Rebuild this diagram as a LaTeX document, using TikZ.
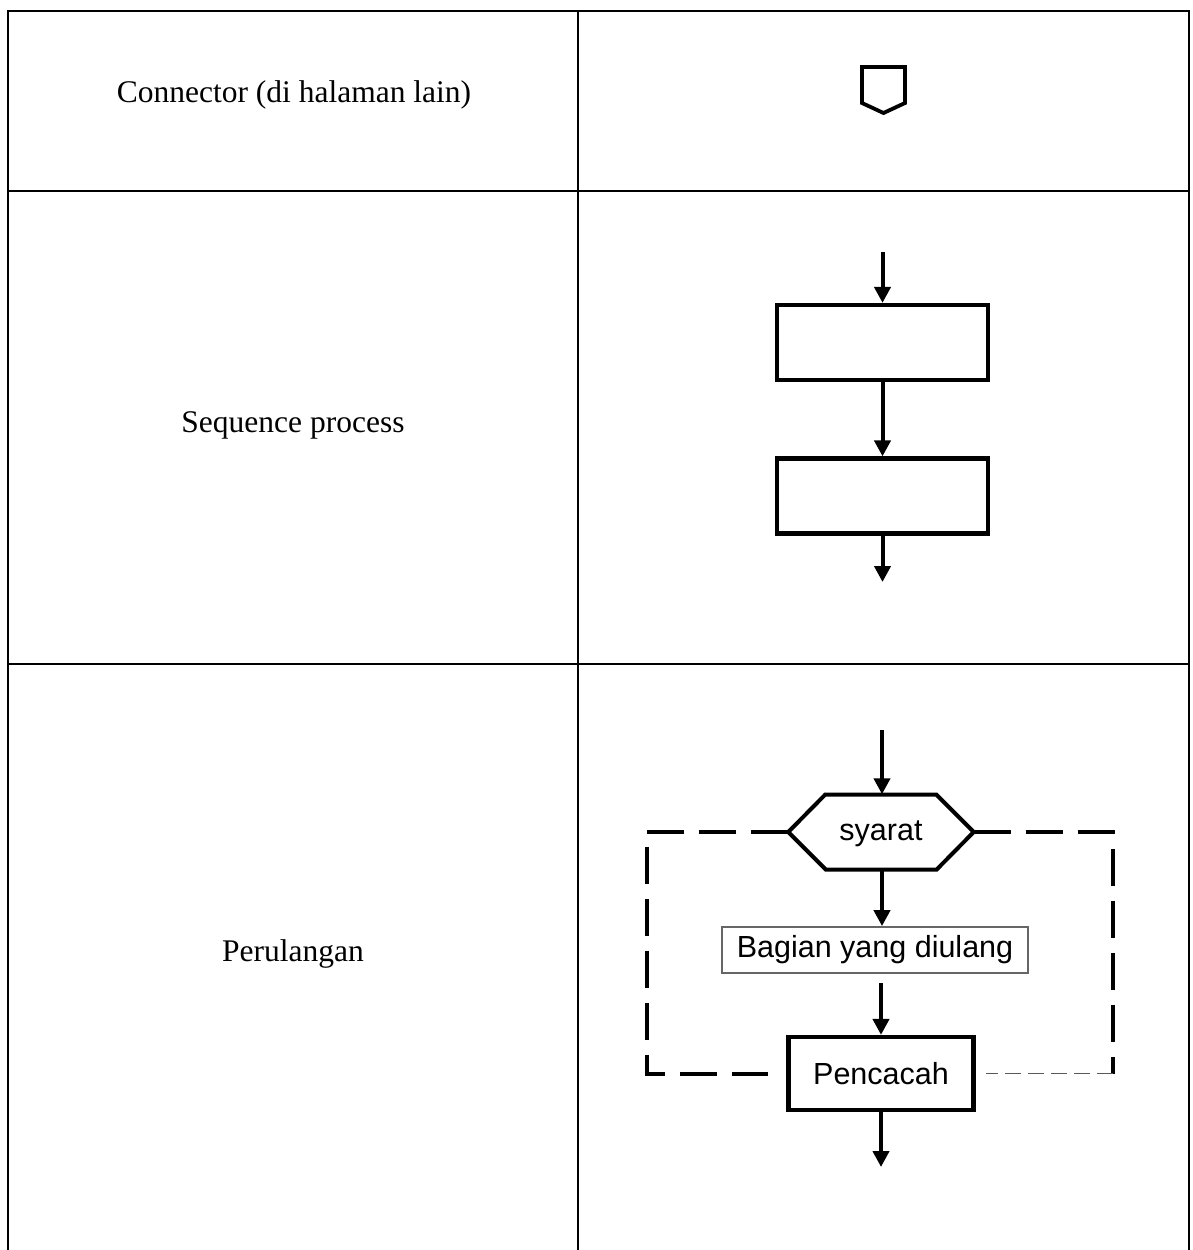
\documentclass[tikz,border=0pt]{standalone}
\usepackage{fontspec}
\setmainfont{Liberation Serif}
\newfontfamily\arialfont{Liberation Sans}
\usetikzlibrary{arrows.meta}
\begin{document}
\begin{tikzpicture}[x=1pt,y=-1pt,
  tableline/.style={line width=2pt,line cap=rect},
  labeltext/.style={font=\fontsize{31.5}{38}\selectfont, anchor=base, inner sep=0pt},
  flowbox/.style={draw, line width=4.2pt, minimum width=211pt, minimum height=75pt, inner sep=0pt},
  flowarrow/.style={line width=4pt, -{Triangle[length=16pt,width=16pt]}},
  flowline/.style={line width=4pt, line join=miter},
  sanstext/.style={font=\arialfont\fontsize{30.5}{36}\selectfont},
  loopdash/.style={line width=4pt, dash pattern=on 37pt off 15pt},
  thindash/.style={line width=1.8pt, draw=black!65, dash pattern=on 16pt off 7pt},
]
\useasboundingbox (0,0) rectangle (1193,1250);
\fill[white] (0,0) rectangle (1193,1250);

% table
\draw[tableline] (8,1250) -- (8,11) -- (1189,11) -- (1189,1250);
\draw[tableline] (578,11) -- (578,1250);
\draw[tableline] (8,191) -- (1189,191);
\draw[tableline] (8,664) -- (1189,664);

% left column labels
\node[labeltext] (lab1) at (294,102) {Connector (di halaman lain)};
\node[labeltext] (lab2) at (293,432) {Sequence process};
\node[labeltext] (lab3) at (293,961) {Perulangan};

% off-page connector symbol
\draw[line width=3.8pt, line join=miter] (862,67) -- (905,67) -- (905,103) -- (883.5,113) -- (862,103) -- cycle;

% sequence process
\coordinate (s0) at (882.5,252);
\node[flowbox] (b1) at (882.5,342.5) {};
\node[flowbox] (b2) at (882.5,496) {};
\coordinate (s3) at (882.5,582);
\draw[flowarrow] (s0) -- (b1.north);
\draw[flowarrow] (b1.south) -- (b2.north);
\draw[flowarrow] (b2.south) -- (s3);

% loop
\coordinate (p0) at (882,730);
\node[sanstext, minimum width=185pt, minimum height=75pt, inner sep=0pt, text depth=2pt] (syr) at (881,832) {syarat};
\draw[flowline] (syr.west) -- ++(37,-37.5) -- ++(111,0) -- (syr.east) -- ++(-37,37.5) -- ++(-111,0) -- cycle;
\node[sanstext, draw=black!60, line width=1.8pt, minimum width=306pt, minimum height=46pt, inner sep=0pt] (bag) at (875,950) {Bagian yang diulang};
\node[sanstext, draw, line width=4.2pt, minimum width=185pt, minimum height=73pt, inner sep=0pt] (pen) at (881,1073.5) {Pencacah};
\coordinate (p4) at (881,1167);
\coordinate (cl) at (647,1073.5);
\coordinate (cr) at (1113,1073.5);

\draw[flowarrow] (p0) -- (p0 |- syr.north);
\draw[flowarrow] (syr.south -| p0) -- (p0 |- bag.north);
\draw[flowarrow, shorten <=9pt] (bag.south -| pen.north) -- (pen.north);
\draw[flowarrow] (pen.south) -- (p4);

\draw[loopdash] (syr.west) -- (syr.west -| cl) -- (cl) -- (pen.west) [shorten >=18pt];
\draw[loopdash] (syr.east) -- (syr.east -| cr) -- (cr);
\draw[thindash] (cr) -- (pen.east) [shorten >=10pt];
\end{tikzpicture}
\end{document}
